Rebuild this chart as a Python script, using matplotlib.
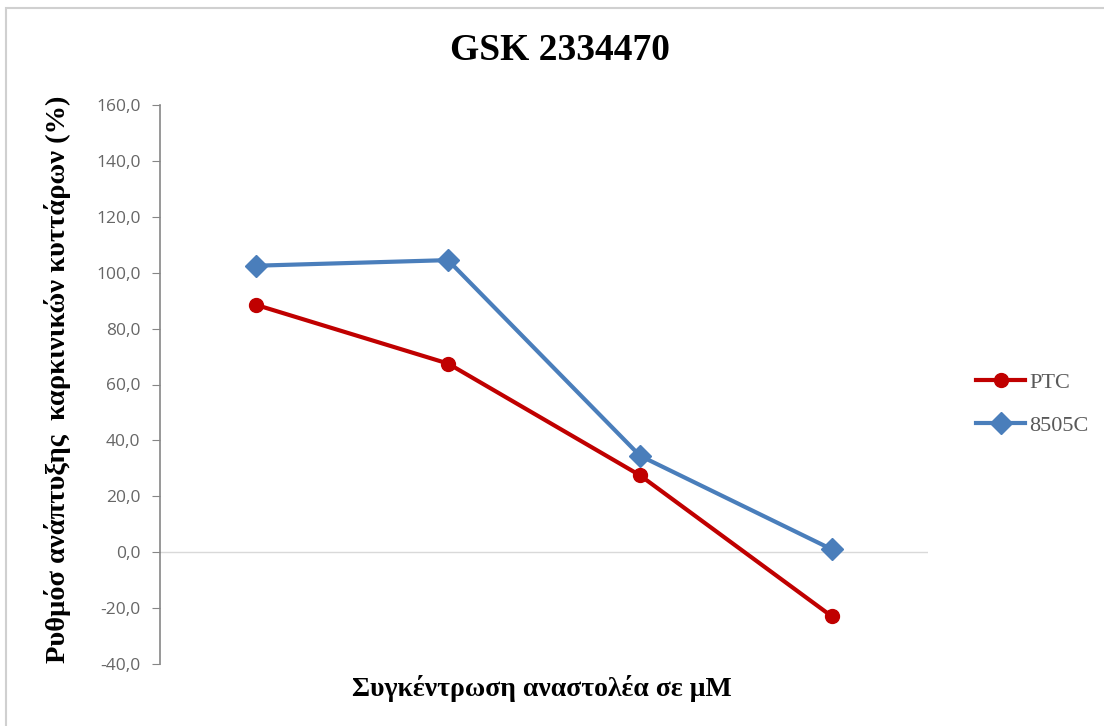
import matplotlib
matplotlib.use("Agg")
import matplotlib.pyplot as plt
from matplotlib.patches import Rectangle
from matplotlib.ticker import FuncFormatter

categories = ["1", "2", "3", "4"]
ptc = [88.5, 67.5, 27.5, -23.0]
c8505 = [102.5, 104.5, 34.5, 1.0]
yticks = [-40, -20, 0, 20, 40, 60, 80, 100, 120, 140, 160]

fig = plt.figure(figsize=(11.04, 7.26), dpi=100)
fig.patches.append(Rectangle((6/1104, -0.05), 1.1, 1 - 8/726 + 0.05, transform=fig.transFigure,
                             fill=False, edgecolor="#d0d0d0", linewidth=1.5))
ax = fig.add_axes([160/1104, 62/726, 768/1104, 559/726])
x = list(range(len(categories)))
ax.plot(x, ptc, color="#C00000", linewidth=3, marker="o", markersize=10, label="PTC", zorder=3)
ax.plot(x, c8505, color="#4A7EBB", linewidth=3, marker="D", markersize=11, label="8505C", zorder=3)
ax.set_xlim(-0.5, len(categories) - 0.5)
ax.set_ylim(-40, 160)
ax.set_yticks(yticks)
ax.yaxis.set_major_formatter(FuncFormatter(lambda v, p: f"{v:.1f}".replace(".", ",")))
ax.axhline(0, color="#d9d9d9", linewidth=1, zorder=1)
for s in ["top", "right", "bottom"]:
    ax.spines[s].set_visible(False)
ax.spines["left"].set_color("#868686")
ax.spines["left"].set_linewidth(1.2)
ax.set_xticks([])
ax.tick_params(axis="y", direction="out", length=6, color="#868686", labelsize=12.5,
               labelcolor="#666666", pad=8)
for t in ax.get_yticklabels():
    t.set_fontfamily("Open Sans")
fig.text(0.507, 0.93, "GSK 2334470", ha="center", va="center", fontsize=27,
         fontweight="bold", family="Liberation Serif")
fig.text(0.052, 0.477, "Ρυθμόσ ανάπτυξης  καρκινικών κυττάρων (%)", rotation=90, ha="center",
         va="center", fontsize=20.5, fontweight="bold", family="Liberation Serif")
fig.text(0.491, 0.052, "Συγκέντρωση αναστολέα σε μΜ", ha="center", va="center",
         fontsize=20, fontweight="bold", family="Liberation Serif")
leg = fig.legend(loc="center left", bbox_to_anchor=(0.866, 0.443), frameon=False,
                 prop={"family": "Liberation Serif", "size": 16}, handlelength=2.2,
                 labelspacing=1.0, handletextpad=0.2)
for t in leg.get_texts():
    t.set_color("#595959")
fig.savefig("out.png", dpi=100)
